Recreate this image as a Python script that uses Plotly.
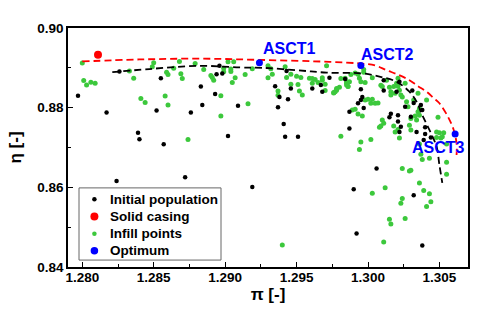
import plotly.graph_objects as go

# ---------------- data ----------------
init_pi = [1.2797,1.2817,1.2826,1.2839,1.2840,1.2855,1.2852,1.2857,1.2876,1.2883,
           1.2884,1.2893,1.2894,1.2898,1.2896,1.2902,1.2909,1.2824,1.2872,1.2919,
           1.2935,1.2938,1.2944,1.2937,1.2941,1.2942,1.2951,1.2946,1.2943,1.2961,
           1.2967,1.2973,1.2984,1.2987,1.2987,1.2995,1.2996,1.2995,1.2993,1.3011,
           1.3022,1.3016,1.3021,1.3026,1.3030,1.2997,1.3011,1.3015,1.3021,1.3023,
           1.3020,1.3032,1.3031,1.3037,1.3038,1.3040,1.3040,1.3044,1.3022,1.3034,
           1.3039,1.3006,1.2990,1.3032,1.2992,1.3038,1.2968]
init_eta = [0.8830,0.8788,0.8891,0.8737,0.8721,0.8874,0.8793,0.8708,0.8788,0.8853,
            0.8807,0.8834,0.8884,0.8886,0.8905,0.8729,0.8805,0.8616,0.8625,0.8601,
            0.8854,0.8827,0.8821,0.8801,0.8759,0.8727,0.8727,0.8848,0.8892,0.8848,
            0.8857,0.8875,0.8872,0.8790,0.8748,0.8846,0.8827,0.8819,0.8811,0.8869,
            0.8865,0.8785,0.8781,0.8802,0.8777,0.8799,0.8843,0.8776,0.8765,0.8752,
            0.8840,0.8812,0.8843,0.8807,0.8794,0.8751,0.8734,0.8725,0.8739,0.8739,
            0.8719,0.8647,0.8595,0.8580,0.8484,0.8454,0.8840]

infill_pi = [1.2800,1.2801,1.2803,1.2806,1.2809,1.2833,1.2836,1.2841,1.2844,1.2850,
             1.2849,1.2859,1.2860,1.2858,1.2860,1.2864,1.2868,1.2869,1.2870,1.2874,
             1.2879,1.2885,1.2890,1.2891,1.2892,1.2897,1.2897,1.2899,1.2899,1.2902,
             1.2906,1.2904,1.2904,1.2907,1.2905,1.2914,1.2916,1.2940,
             1.2919,1.2930,1.2932,1.2933,1.2930,1.2937,1.2937,1.2942,1.2943,1.2946,
             1.2950,1.2946,1.2951,1.2952,1.2954,1.2959,1.2961,1.2961,1.2963,1.2968,
             1.2970,1.2970,1.2971,1.2976,
             1.2953,1.2965,1.2968,1.2978,1.2980,1.2985,1.2986,1.2987,
             1.2981,1.2984,1.2985,1.2985,1.2986,1.2977,1.2978,1.2976,1.2988,1.2991,
             1.2993,1.2994,1.2995,1.2997,1.2997,1.2998,1.3003,1.3009,1.3010,1.3013,
             1.3015,1.3016,1.3016,1.3018,1.3019,1.2998,1.3000,1.3003,1.3002,1.2989,
             1.2991,1.2993,1.2996,1.3005,1.3007,1.3010,1.3011,1.3008,1.3009,1.2981,
             1.3002,1.3018,1.3019,1.3021,
             1.3020,1.3021,1.3022,1.3023,1.3024,1.3026,1.3027,1.3028,1.3035,1.3036,
             1.3033,1.3034,1.3030,1.3041,1.3032,1.3035,1.3029,1.3030,1.3049,1.3050,
             1.3053,1.3051,1.3021,1.3036,
             1.2995,1.2994,1.3022,1.3048,1.3052,1.3048,1.3037,1.3038,1.3043,1.3055,
             1.3055,1.3055,1.3024,1.3029,1.3030,1.3036,1.3039,1.3043,1.3044,1.3041,
             1.3003,1.3012,1.3024,1.3023,1.3015,1.3016,1.3026,1.3011,1.3036]
infill_eta = [0.8912,0.8868,0.8857,0.8864,0.8861,0.8892,0.8874,0.8823,0.8813,0.8913,
              0.8903,0.8889,0.8883,0.8829,0.8807,0.8899,0.8916,0.8885,0.8873,0.8720,
              0.8911,0.8896,0.8881,0.8876,0.8869,0.8830,0.8779,0.8890,0.8899,0.8915,
              0.8915,0.8897,0.8891,0.8875,0.8863,0.8883,0.8810,0.8455,
              0.8898,0.8905,0.8898,0.8884,0.8875,0.8842,0.8831,0.8903,0.8876,0.8884,
              0.8879,0.8859,0.8858,0.8842,0.8832,0.8874,0.8873,0.8861,0.8871,0.8875,
              0.8859,0.8843,0.8905,0.8838,
              0.8876,0.8863,0.8869,0.8844,0.8851,0.8861,0.8854,0.8865,
              0.8873,0.8874,0.8865,0.8857,0.8853,0.8840,0.8848,0.8837,0.8883,0.8887,
              0.8884,0.8874,0.8865,0.8889,0.8896,0.8863,0.8875,0.8856,0.8853,0.8869,
              0.8851,0.8840,0.8832,0.8853,0.8836,0.8819,0.8821,0.8821,0.8811,0.8794,
              0.8796,0.8784,0.8779,0.8811,0.8812,0.8769,0.8761,0.8751,0.8754,0.8728,
              0.8720,0.8754,0.8739,0.8745,
              0.8861,0.8854,0.8844,0.8832,0.8827,0.8861,0.8815,0.8802,0.8790,0.8781,
              0.8779,0.8769,0.8773,0.8819,0.8819,0.8836,0.8756,0.8744,0.8776,0.8737,
              0.8737,0.8724,0.8874,0.8798,
              0.8714,0.8695,0.8724,0.8739,0.8727,0.8725,0.8683,0.8670,0.8673,0.8709,
              0.8663,0.8633,0.8647,0.8641,0.8643,0.8611,0.8592,0.8584,0.8564,0.8552,
              0.8585,0.8599,0.8572,0.8560,0.8520,0.8508,0.8522,0.8463,0.8709]

solid_pi = [1.2811]
solid_eta = [0.8933]

opt_pi = [1.2924, 1.2995, 1.3061]
opt_eta = [0.8913, 0.8906, 0.8734]
opt_labels = ["ASCT1", "ASCT2", "ASCT3"]

front_red_pi = [1.2800,1.2840,1.2882,1.2924,1.2973,1.2994,1.3005,1.3013,1.3021,1.3029,
                1.3035,1.3041,1.3046,1.3050,1.3056,1.3060,1.3062,1.3062]
front_red_eta = [0.8916,0.8921,0.8923,0.8920,0.8915,0.8911,0.8906,0.8894,0.8883,0.8869,
                 0.8854,0.8840,0.8824,0.8811,0.8777,0.8744,0.8710,0.8681]

front_black_pi = [1.2821,1.2847,1.2882,1.2910,1.2926,1.2950,1.2971,1.2996,1.3008,1.3020,
                  1.3029,1.3034,1.3038,1.3043,1.3048,1.3050,1.3052]
front_black_eta = [0.8889,0.8897,0.8905,0.8901,0.8900,0.8894,0.8888,0.8886,0.8878,0.8865,
                   0.8840,0.8815,0.8781,0.8744,0.8702,0.8656,0.8611]

x_ticks = [1.280, 1.285, 1.290, 1.295, 1.300, 1.305]
x_ticklabels = ["1.280", "1.285", "1.290", "1.295", "1.300", "1.305"]
y_ticks = [0.84, 0.86, 0.88, 0.90]
y_ticklabels = ["0.84", "0.86", "0.88", "0.90"]

legend_names = ["Initial population", "Solid casing", "Infill points", "Optimum"]

# ---------------- styling ----------------
GREEN = "#3cc83c"
FONT = "Liberation Sans, Arial, sans-serif"
legend_colors = ["black", "red", GREEN, "blue"]
legend_sizes = [4.5, 8, 4.5, 7.5]

fig = go.Figure()

fig.add_trace(go.Scatter(x=infill_pi, y=infill_eta, mode="markers", name="Infill points",
                         marker=dict(color=GREEN, size=5), showlegend=False))
fig.add_trace(go.Scatter(x=init_pi, y=init_eta, mode="markers", name="Initial population",
                         marker=dict(color="black", size=4.5), showlegend=False))
fig.add_trace(go.Scatter(x=front_red_pi, y=front_red_eta, mode="lines", showlegend=False,
                         line=dict(color="red", width=1.8, dash="7px,4px", shape="spline")))
fig.add_trace(go.Scatter(x=front_black_pi, y=front_black_eta, mode="lines", showlegend=False,
                         line=dict(color="black", width=1.8, dash="7px,4px", shape="spline")))
fig.add_trace(go.Scatter(x=solid_pi, y=solid_eta, mode="markers", name="Solid casing",
                         marker=dict(color="red", size=8), showlegend=False))
fig.add_trace(go.Scatter(x=opt_pi, y=opt_eta, mode="markers", name="Optimum",
                         marker=dict(color="blue", size=7), showlegend=False))

label_pos = [dict(xanchor="left", yanchor="bottom", xshift=2, yshift=4),
             dict(xanchor="left", yanchor="bottom", xshift=-2, yshift=0),
             dict(xanchor="right", yanchor="top", xshift=12, yshift=-3)]
for px, ey, lab, pos in zip(opt_pi, opt_eta, opt_labels, label_pos):
    fig.add_annotation(x=px, y=ey, text=lab, showarrow=False,
                       font=dict(family=FONT, size=16, color="blue", weight="bold"), **pos)

# ---- custom legend box (paper coordinates of the plot area) ----
leg_x0, leg_x1, leg_y0, leg_y1 = 0.0275, 0.3825, 0.029, 0.331
leg_marker_x = 0.066
leg_text_x = 0.100
leg_rows = [0.283, 0.211, 0.139, 0.068]
fig.add_shape(type="rect", xref="paper", yref="paper", x0=leg_x0, x1=leg_x1,
              y0=leg_y0, y1=leg_y1, line=dict(color="#666", width=1),
              fillcolor="white", layer="below")
for name, col, sz, ry in zip(legend_names, legend_colors, legend_sizes, leg_rows):
    fig.add_trace(go.Scatter(x=[leg_marker_x], y=[ry], xaxis="x2", yaxis="y2",
                             mode="markers", marker=dict(color=col, size=sz),
                             showlegend=False, hoverinfo="skip"))
    fig.add_annotation(xref="paper", yref="paper", x=leg_text_x, y=ry, text=name,
                       showarrow=False, xanchor="left", yanchor="middle",
                       font=dict(family=FONT, size=13.5, color="black", weight="bold"))

axis_common = dict(showline=True, linewidth=1.5, linecolor="black", mirror=True,
                   ticks="inside", ticklen=5, tickwidth=1.3, tickcolor="black",
                   showgrid=False, zeroline=False,
                   tickfont=dict(family=FONT, size=13.5, color="black", weight="bold"))

xaxis_cfg = dict(range=[1.279, 1.307], tickmode="array", tickvals=x_ticks, ticktext=x_ticklabels,
                 ticklabelstandoff=-3,
                 minor=dict(tickmode="array", tickvals=[1.2825, 1.2875, 1.2925, 1.2975, 1.3025],
                            ticks="inside", ticklen=3, tickwidth=1.2, tickcolor="black"),
                 title=dict(text="π [-]", standoff=2,
                            font=dict(family=FONT, size=17, color="black", weight="bold")),
                 **axis_common)
yaxis_cfg = dict(range=[0.84, 0.90], tickmode="array", tickvals=y_ticks, ticktext=y_ticklabels,
                 minor=dict(tickmode="array", tickvals=[0.85, 0.87, 0.89],
                            ticks="inside", ticklen=3, tickwidth=1.2, tickcolor="black"),
                 title=dict(text="η [-]", standoff=11,
                            font=dict(family=FONT, size=17, color="black", weight="bold")),
                 **axis_common)

fig.update_layout(
    width=500, height=323,
    margin=dict(l=68, r=32, t=28, b=56),
    plot_bgcolor="white", paper_bgcolor="white",
    font=dict(family=FONT, color="black"),
    showlegend=False,
    xaxis=xaxis_cfg,
    yaxis=yaxis_cfg,
    xaxis2=dict(overlaying="x", range=[0, 1], visible=False, fixedrange=True),
    yaxis2=dict(overlaying="y", range=[0, 1], visible=False, fixedrange=True),
)

fig.write_html("out.html")
